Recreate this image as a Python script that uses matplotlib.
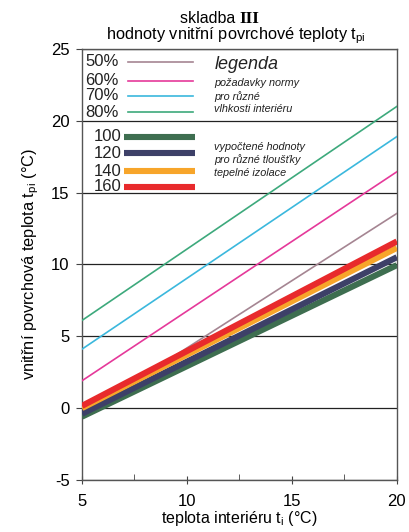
import matplotlib
matplotlib.use('Agg')
import matplotlib.pyplot as plt
from matplotlib.ticker import MultipleLocator

plt.rcParams['font.family'] = ['Liberation Sans', 'DejaVu Sans']
plt.rcParams['mathtext.fontset'] = 'custom'
plt.rcParams['mathtext.rm'] = 'Liberation Sans'
plt.rcParams['axes.unicode_minus'] = False

# interior temperature range
t_i = [5, 20]

# required values (norm) for various interior humidities
rh_labels = ["50%", "60%", "70%", "80%"]
rh_values = [[-0.5, 13.55], [1.9, 16.45], [4.1, 18.9], [6.1, 21.0]]
rh_colors = ["#a58592", "#e5399a", "#3bb8dd", "#3da97c"]

# computed values for various insulation thicknesses
ins_labels = ["100", "120", "140", "160"]
ins_values = [[-0.6, 9.95], [-0.4, 10.5], [0.0, 11.15], [0.15, 11.6]]
ins_colors = ["#3e6e50", "#3d4068", "#f7a52a", "#e82a2c"]

fig = plt.figure(figsize=(4.10, 5.32), dpi=100)
ax = fig.add_axes([0.2, 0.098, 0.768, 0.81])

# thin lines underneath, thick ones on top
for vals, col in zip(rh_values, rh_colors):
    ax.plot(t_i, vals, color=col, lw=1.2, zorder=3)
for vals, col in zip(ins_values, ins_colors):
    ax.plot(t_i, vals, color=col, lw=4.4, solid_capstyle='butt', zorder=4)

ax.set_xlim(5, 20)
ax.set_ylim(-5, 25)
ax.xaxis.set_major_locator(MultipleLocator(5))
ax.xaxis.set_minor_locator(MultipleLocator(2.5))
ax.yaxis.set_major_locator(MultipleLocator(5))
ax.grid(axis='y', color='#222222', lw=0.9, zorder=1)
ax.tick_params(axis='x', which='major', direction='inout', length=6, labelsize=12,
               color='#444444', pad=7)
ax.tick_params(axis='x', which='minor', direction='in', length=4, color='#444444')
ax.tick_params(axis='y', direction='out', length=4, labelsize=12, color='#444444', pad=5)
for sp in ax.spines.values():
    sp.set_color('#555555')
    sp.set_linewidth(1.0)

# legend block drawn inside the plot area
rh_y = [24.1, 22.8, 21.75, 20.6]
for lab, col, y in zip(rh_labels, rh_colors, rh_y):
    ax.text(5.15, y, lab, fontsize=12, va='center', ha='left', color='#222222')
    ax.plot([7.2, 10.3], [y, y], color=col, lw=1.2)
ax.text(11.3, 23.95, "legenda", fontsize=13, style='italic', va='center', color='#222222')
for y, s in zip([22.65, 21.7, 20.8], ["požadavky normy", "pro různé", "vlhkosti interiéru"]):
    ax.text(11.3, y, s, fontsize=7.8, style='italic', va='center', color='#222222')

ins_y = [18.9, 17.75, 16.5, 15.4]
for lab, col, y in zip(ins_labels, ins_colors, ins_y):
    ax.text(5.55, y, lab, fontsize=12, va='center', ha='left', color='#222222')
    ax.plot([7.0, 10.4], [y, y], color=col, lw=4.4, solid_capstyle='butt')
for y, s in zip([18.2, 17.3, 16.35], ["vypočtené hodnoty", "pro různé tloušťky", "tepelné izolace"]):
    ax.text(11.3, y, s, fontsize=7.8, style='italic', va='center', color='#222222')

ax.set_xlabel("teplota interiéru t$_\\mathrm{i}$ (°C)", fontsize=11.5, labelpad=0)
ax.set_ylabel("vnitřní povrchová teplota t$_\\mathrm{pi}$ (°C)", fontsize=11.8, labelpad=7)

fig.text(0.585, 0.965, "skladba ", fontsize=11.5, ha='right', va='center')
fig.text(0.585, 0.965, "III", fontsize=12.5, family='Liberation Serif', weight='bold',
         ha='left', va='center')
fig.text(0.575, 0.932, "hodnoty vnitřní povrchové teploty t$_\\mathrm{pi}$", fontsize=11.8,
         ha='center', va='center')

fig.savefig("out.png", dpi=100)
